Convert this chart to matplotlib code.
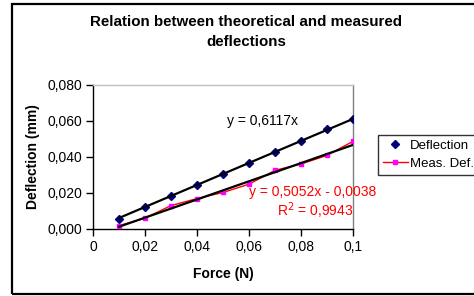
import matplotlib
matplotlib.use("Agg")
import matplotlib.pyplot as plt
from matplotlib.patches import Rectangle
import numpy as np

plt.rcParams['font.family'] = ['Liberation Sans', 'DejaVu Sans']

# ---- data ----
force = [0.01, 0.02, 0.03, 0.04, 0.05, 0.06, 0.07, 0.08, 0.09, 0.10]
deflection = [0.0058, 0.0123, 0.0182, 0.0247, 0.0305, 0.0365, 0.0430, 0.0489, 0.0553, 0.0612]
meas_def = [0.0019, 0.0060, 0.0130, 0.0169, 0.0203, 0.0249, 0.0326, 0.0361, 0.0409, 0.0487]
trend1_slope, trend1_icpt = 0.6117, 0.0
trend2_slope, trend2_icpt = 0.5052, -0.0038
xticks = [0, 0.02, 0.04, 0.06, 0.08, 0.1]
xtick_labels = ["0", "0,02", "0,04", "0,06", "0,08", "0,1"]
yticks = [0.0, 0.02, 0.04, 0.06, 0.08]
ytick_labels = ["0,000", "0,020", "0,040", "0,060", "0,080"]
series_names = ["Deflection", "Meas. Def."]
title = "Relation between theoretical and measured\ndeflections"
eq1 = "y = 0,6117x"
eq2 = "y = 0,5052x - 0,0038"
r2 = "R$^2$ = 0,9943"

W, H = 474, 296
fig = plt.figure(figsize=(W / 100, H / 100), dpi=100)
fig.patch.set_facecolor("white")

# outer chart border
fig.patches.append(Rectangle((12 / W, 1 - 294 / H), 1.0, (294 - 4) / H,
                             transform=fig.transFigure, fill=False,
                             edgecolor="black", lw=1.6, zorder=0))

ax = fig.add_axes([93 / W, 1 - 229 / H, (353 - 93) / W, (229 - 85) / H])
ax.set_xlim(0, 0.1)
ax.set_ylim(0, 0.08)

ax.plot(force, deflection, linestyle="none", marker="D", markersize=4.0,
        color="#000080", label=series_names[0], zorder=3)
ax.plot(force, meas_def, color="#FF0000", lw=1.0, marker="s", markersize=3.2,
        markerfacecolor="#FF00FF", markeredgecolor="#FF00FF",
        label=series_names[1], zorder=3)

fx = np.array([force[0], force[-1]])
ax.plot(fx, trend1_slope * fx + trend1_icpt, color="black", lw=1.6, zorder=4)
ax.plot(fx, trend2_slope * fx + trend2_icpt, color="black", lw=1.6, zorder=4)

ax.set_xticks(xticks)
ax.set_xticklabels(xtick_labels)
ax.set_yticks(yticks)
ax.set_yticklabels(ytick_labels)
ax.tick_params(direction="out", length=5, width=1, labelsize=10, pad=3,
               colors="black")

for s in ["left", "bottom"]:
    ax.spines[s].set_color("black")
    ax.spines[s].set_linewidth(1.0)
ax.spines["top"].set_color("#c0c0c0")
ax.spines["top"].set_linewidth(1.0)
ax.spines["right"].set_color("#808080")
ax.spines["right"].set_linewidth(1.0)

ax.set_xlabel("Force (N)", fontsize=10, fontweight="bold", labelpad=9)
ax.set_ylabel("Deflection (mm)", fontsize=10, fontweight="bold", labelpad=5)

fig.text(246 / W, 1 - 32 / H, title, ha="center", va="center",
         fontsize=10.9, fontweight="bold", linespacing=1.6)

ax.text(227 / W, 1 - 121 / H, eq1, transform=fig.transFigure,
        fontsize=10, color="black", ha="left", va="center")
ax.text(249 / W, 1 - 192 / H, eq2, transform=fig.transFigure,
        fontsize=10, color="#FF0000", ha="left", va="center")
ax.text(277 / W, 1 - 211 / H, r2, transform=fig.transFigure,
        fontsize=10, color="#FF0000", ha="left", va="center")

leg = fig.legend(loc="upper left", bbox_to_anchor=(378 / W, 1 - 135 / H),
                 fontsize=9.5, frameon=True, fancybox=False, edgecolor="black",
                 borderpad=0.35, handlelength=1.9, handletextpad=0.2,
                 labelspacing=0.45, borderaxespad=0)
leg.get_frame().set_linewidth(1.0)

fig.savefig("out.png", dpi=100)
